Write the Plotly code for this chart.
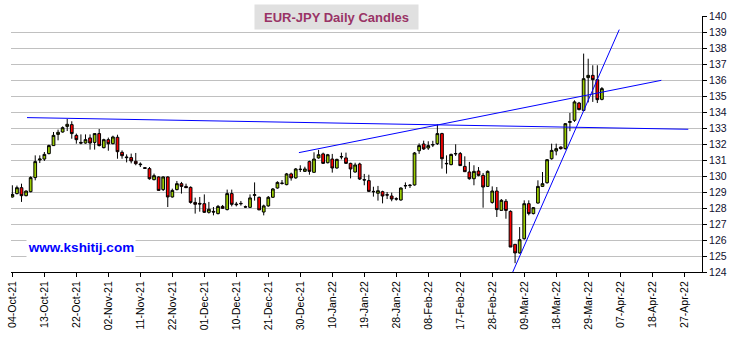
import pandas as pd
import plotly.graph_objects as go

# ---- data (EUR-JPY daily candles) ----
start_date = "2021-10-04"
n_axis_days = 152  # weekday slots shown on the axis

opens = [128.69, 128.90, 129.27, 128.77, 129.02, 129.90, 131.00, 131.06, 131.40, 131.90,
         132.60, 132.75, 133.10, 133.21, 132.54, 132.10, 132.06, 132.38, 132.10, 132.65,
         131.77, 132.27, 132.02, 132.42, 131.48, 131.19, 131.15, 130.92, 130.75, 130.52,
         130.46, 129.77, 129.94, 129.15, 129.94, 128.69, 129.15, 129.52, 129.35, 129.29,
         128.35, 128.29, 128.27, 127.73, 127.79, 127.65, 128.10, 127.90, 128.90, 128.25,
         128.29, 128.08, 128.04, 128.79, 128.67, 127.75, 128.13, 128.67, 129.25, 129.56,
         129.46, 130.13, 129.88, 130.40, 130.29, 130.90, 130.23, 131.13, 131.38, 130.83,
         131.06, 130.50, 131.19, 131.13, 130.79, 130.25, 130.75, 129.77, 129.71, 129.04,
         128.92, 129.02, 128.83, 128.75, 128.58, 128.50, 129.38, 129.40, 129.44, 131.58,
         132.00, 131.75, 131.94, 132.02, 132.65, 130.79, 130.71, 131.38, 131.40, 130.60,
         130.25, 129.83, 130.31, 130.04, 129.35, 128.35, 129.06, 127.85, 128.42, 127.79,
         125.73, 125.19, 126.08, 128.27, 127.65, 128.31, 129.35, 129.58, 131.08, 131.56,
         131.81, 131.71, 133.35, 133.48, 134.56, 134.10, 136.15, 136.29, 136.02, 134.79]
highs = [129.42, 129.40, 129.52, 129.10, 129.98, 131.29, 131.29, 131.50, 131.96, 132.75,
         132.90, 133.10, 133.56, 133.42, 132.65, 132.60, 132.60, 132.60, 132.65, 132.94,
         132.33, 132.40, 132.52, 132.58, 131.60, 131.35, 131.40, 131.44, 130.85, 130.56,
         130.56, 130.15, 129.98, 129.98, 129.98, 129.21, 129.69, 129.63, 129.52, 129.35,
         128.65, 128.69, 128.85, 128.38, 128.06, 128.19, 128.19, 129.15, 129.15, 128.38,
         128.44, 128.15, 128.85, 129.60, 128.71, 128.21, 128.75, 129.25, 129.67, 129.75,
         130.19, 130.21, 130.50, 130.67, 130.58, 130.96, 131.48, 131.63, 131.46, 131.38,
         131.38, 131.08, 131.46, 131.46, 130.83, 130.83, 130.83, 130.13, 130.08, 129.33,
         129.38, 129.08, 129.00, 128.96, 128.67, 129.29, 129.60, 129.50, 131.50, 132.04,
         132.21, 132.17, 132.20, 133.23, 132.70, 131.29, 131.40, 131.98, 131.50, 131.23,
         130.88, 130.67, 130.56, 130.19, 130.35, 129.35, 129.31, 128.56, 128.56, 127.85,
         125.73, 126.81, 128.48, 128.48, 128.06, 129.73, 130.25, 131.06, 132.02, 132.02,
         131.85, 133.30, 133.94, 134.73, 134.63, 137.65, 137.33, 136.92, 136.92, 135.56]
lows = [128.65, 128.85, 128.38, 128.73, 128.98, 129.73, 130.81, 130.94, 131.35, 131.88,
        132.23, 132.71, 132.81, 132.33, 132.02, 131.98, 132.02, 131.65, 131.65, 131.85,
        131.73, 131.58, 131.98, 131.08, 131.08, 130.85, 130.79, 130.67, 130.56, 130.44,
        129.77, 129.73, 129.10, 129.06, 128.06, 128.65, 129.10, 128.90, 129.25, 128.27,
        127.65, 127.77, 127.69, 127.65, 127.54, 127.60, 127.94, 127.85, 128.10, 128.10,
        128.15, 128.02, 128.02, 128.46, 127.88, 127.54, 128.08, 128.63, 129.21, 129.46,
        129.42, 129.71, 129.83, 130.25, 130.25, 130.08, 130.21, 131.08, 130.75, 130.79,
        130.21, 130.46, 131.04, 130.75, 129.85, 130.21, 129.75, 129.42, 129.00, 128.71,
        128.46, 128.29, 128.56, 128.42, 128.46, 128.46, 129.19, 129.25, 129.40, 131.38,
        131.63, 131.63, 131.81, 131.94, 130.46, 130.15, 130.67, 131.25, 130.63, 130.25,
        129.77, 129.42, 129.98, 128.02, 129.31, 128.27, 127.44, 127.85, 127.33, 125.56,
        124.55, 125.15, 126.02, 127.54, 127.60, 128.27, 129.31, 129.52, 131.02, 131.29,
        131.65, 131.65, 132.80, 133.38, 134.10, 134.06, 134.60, 134.63, 134.56, 134.73]
closes = [128.85, 129.27, 128.77, 129.06, 129.90, 130.90, 131.06, 131.35, 131.90, 132.54,
          132.73, 133.02, 133.23, 132.65, 132.27, 132.06, 132.27, 132.06, 132.65, 131.90,
          132.27, 132.02, 132.44, 131.52, 131.27, 131.15, 130.94, 130.77, 130.71, 130.48,
          129.83, 130.02, 129.10, 129.94, 128.69, 129.10, 129.52, 129.35, 129.27, 128.35,
          128.23, 128.25, 127.73, 127.92, 127.75, 128.10, 127.98, 128.90, 128.23, 128.21,
          128.27, 128.06, 128.63, 128.83, 127.88, 128.13, 128.67, 129.19, 129.60, 129.54,
          130.13, 129.88, 130.44, 130.42, 130.44, 130.29, 131.06, 131.33, 130.79, 131.33,
          130.50, 131.04, 131.21, 130.79, 130.44, 130.69, 129.81, 129.75, 129.04, 129.02,
          129.08, 128.75, 128.81, 128.56, 128.56, 129.25, 129.40, 129.42, 131.44, 131.90,
          131.69, 131.90, 131.96, 132.65, 131.08, 130.77, 131.35, 131.40, 130.65, 130.27,
          129.83, 130.29, 130.04, 129.31, 130.29, 129.06, 127.90, 128.48, 127.85, 125.56,
          125.19, 126.02, 128.27, 127.65, 128.02, 129.35, 129.52, 131.02, 131.60, 131.71,
          131.71, 133.27, 133.40, 134.63, 134.15, 136.08, 136.29, 136.02, 134.77, 135.46]

tick_labels = ["04-Oct-21", "13-Oct-21", "22-Oct-21", "02-Nov-21", "11-Nov-21", "22-Nov-21",
               "01-Dec-21", "10-Dec-21", "21-Dec-21", "30-Dec-21", "10-Jan-22", "19-Jan-22",
               "28-Jan-22", "08-Feb-22", "17-Feb-22", "28-Feb-22", "09-Mar-22", "18-Mar-22",
               "29-Mar-22", "07-Apr-22", "18-Apr-22", "27-Apr-22"]

# trend lines: (day slot, price) end points
trend_lines = [
    [(3.2, 133.65), (147.9, 132.92)],
    [(62.7, 131.46), (142.0, 135.98)],
    [(109.4, 123.94), (132.8, 139.15)],
]

title_text = "EUR-JPY Daily Candles"
site_text = "www.kshitij.com"

# ---- build ----
axis_dates = [d.strftime("%d-%b-%y") for d in pd.bdate_range(start=start_date, periods=n_axis_days)]
slot = {d: i for i, d in enumerate(axis_dates)}
x_idx = list(range(len(opens)))
tick_vals = [slot[t] for t in tick_labels]

fig = go.Figure()
fig.add_trace(go.Candlestick(
    x=x_idx, open=opens, high=highs, low=lows, close=closes,
    increasing=dict(fillcolor="#99cc00", line=dict(color="black", width=1)),
    decreasing=dict(fillcolor="#ff0000", line=dict(color="black", width=1)),
    whiskerwidth=0, hoverinfo="skip", showlegend=False,
))
for (x0, y0), (x1, y1) in trend_lines:
    fig.add_trace(go.Scatter(x=[x0, x1], y=[y0, y1], mode="lines",
                             line=dict(color="#0000ff", width=1),
                             hoverinfo="skip", showlegend=False))

font_family = "Liberation Sans, Arial, sans-serif"
fig.update_layout(
    width=733, height=337,
    margin=dict(l=6, r=31, t=16, b=65),
    paper_bgcolor="white", plot_bgcolor="white",
    boxgap=0.15,
    showlegend=False,
    font=dict(family=font_family, size=11, color="black"),
    xaxis=dict(
        range=[-0.3, 150.9], rangeslider=dict(visible=False),
        tickmode="array", tickvals=tick_vals, ticktext=tick_labels,
        tickangle=-90, tickfont=dict(size=10.5, color="black"),
        showgrid=False, zeroline=False,
        showline=True, linecolor="black", linewidth=1,
        ticks="outside", ticklen=4, tickcolor="black",
    ),
    yaxis=dict(
        range=[124, 140], dtick=1, side="right",
        tickfont=dict(size=10.5, color="#101030"),
        showgrid=True, gridcolor="#c0c0c0", gridwidth=1,
        zeroline=False, showline=True, linecolor="black", linewidth=1,
        ticks="outside", ticklen=4, tickcolor="black",
    ),
    annotations=[
        dict(text="<b>" + title_text + "</b>", xref="paper", yref="paper",
             x=0.4705, y=0.996, xanchor="center", yanchor="middle", showarrow=False,
             bgcolor="#e0e0e0", width=157, height=18, borderpad=3,
             font=dict(family=font_family, size=13, color="#993366")),
        dict(text="<b>" + site_text + "</b>", xref="paper", yref="paper",
             x=0.1006, y=0.0996, xanchor="center", yanchor="middle", showarrow=False,
             bgcolor="white", width=106, height=18, borderpad=1,
             font=dict(family=font_family, size=13.5, color="#0000ff")),
    ],
)

fig.write_html("out.html")
